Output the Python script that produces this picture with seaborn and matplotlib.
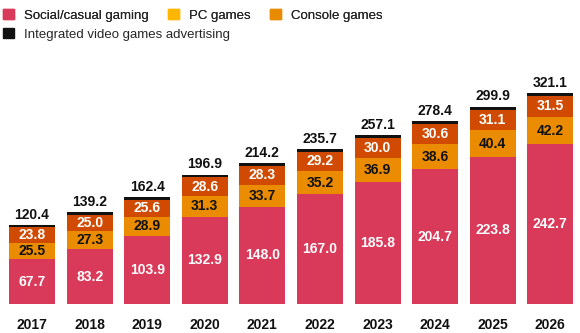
import numpy as np
import pandas as pd
import matplotlib
matplotlib.use("Agg")
import matplotlib.pyplot as plt
from matplotlib.patches import Patch
import seaborn as sns

years = ["2017", "2018", "2019", "2020", "2021", "2022", "2023", "2024", "2025", "2026"]
social = [67.7, 83.2, 103.9, 132.9, 148.0, 167.0, 185.8, 204.7, 223.8, 242.7]
pc = [25.5, 27.3, 28.9, 31.3, 33.7, 35.2, 36.9, 38.6, 40.4, 42.2]
console = [23.8, 25.0, 25.6, 28.6, 28.3, 29.2, 30.0, 30.6, 31.1, 31.5]
totals = [120.4, 139.2, 162.4, 196.9, 214.2, 235.7, 257.1, 278.4, 299.9, 321.1]

c_social = "#D93A5A"
c_pc_bar = "#EB8C00"
c_con_bar = "#D04A02"
c_adv = "#111111"
c_pc_leg = "#FFB600"
c_con_leg = "#E88B00"

sns.set_style("white")
plt.rcParams["font.family"] = ["Liberation Sans", "DejaVu Sans"]

df = pd.DataFrame({"year": years, "social": social, "pc": pc, "console": console, "total": totals})
df["s_pc"] = df["social"] + df["pc"]
df["s_pc_con"] = df["s_pc"] + df["console"]

fig = plt.figure(figsize=(5.8, 3.33), dpi=100)
ax = fig.add_axes([0.0055, 0.087, 0.993, 0.80])

for col, color in [("total", c_adv), ("s_pc_con", c_con_bar), ("s_pc", c_pc_bar), ("social", c_social)]:
    sns.barplot(data=df, x="year", y=col, color=color, width=0.8, ax=ax,
                saturation=1, linewidth=0, errorbar=None)

ax.set_ylim(0, 405)
ax.set_xlim(-0.5, 9.5)
for s in ax.spines.values():
    s.set_visible(False)
ax.set_yticks([])
ax.set_xlabel("")
ax.set_ylabel("")
ax.tick_params(axis="x", length=0, pad=10, labelsize=10)
for t in ax.get_xticklabels():
    t.set_fontweight("bold")
    t.set_color("#111111")

fs = 10
for i in range(len(years)):
    ax.text(i, social[i] / 2, f"{social[i]:.1f}", ha="center", va="center", color="white",
            fontsize=fs, fontweight="bold")
    ax.text(i, social[i] + pc[i] / 2, f"{pc[i]:.1f}", ha="center", va="center", color="#111111",
            fontsize=fs, fontweight="bold")
    ax.text(i, social[i] + pc[i] + console[i] / 2, f"{console[i]:.1f}", ha="center", va="center",
            color="white", fontsize=fs, fontweight="bold")
    ax.text(i, totals[i] + 5, f"{totals[i]:.1f}", ha="center", va="bottom", color="#111111",
            fontsize=fs, fontweight="bold")

lkw = dict(frameon=False, fontsize=9.5, handlelength=0.8, handleheight=0.8, handletextpad=0.75,
           borderaxespad=0.0, borderpad=0.25)
h1 = [Patch(color=c_social, label="Social/casual gaming"),
      Patch(color=c_pc_leg, label="PC games"),
      Patch(color=c_con_leg, label="Console games")]
h2 = [Patch(color=c_adv, label="Integrated video games advertising")]
leg1 = fig.legend(handles=h1, loc="upper left", bbox_to_anchor=(0.0, 0.983), ncol=3,
                  columnspacing=1.5, **lkw)
leg2 = fig.legend(handles=h2, loc="upper left", bbox_to_anchor=(0.0, 0.925), ncol=1, **lkw)
fig.add_artist(leg1)

fig.savefig("out.png", dpi=100)
